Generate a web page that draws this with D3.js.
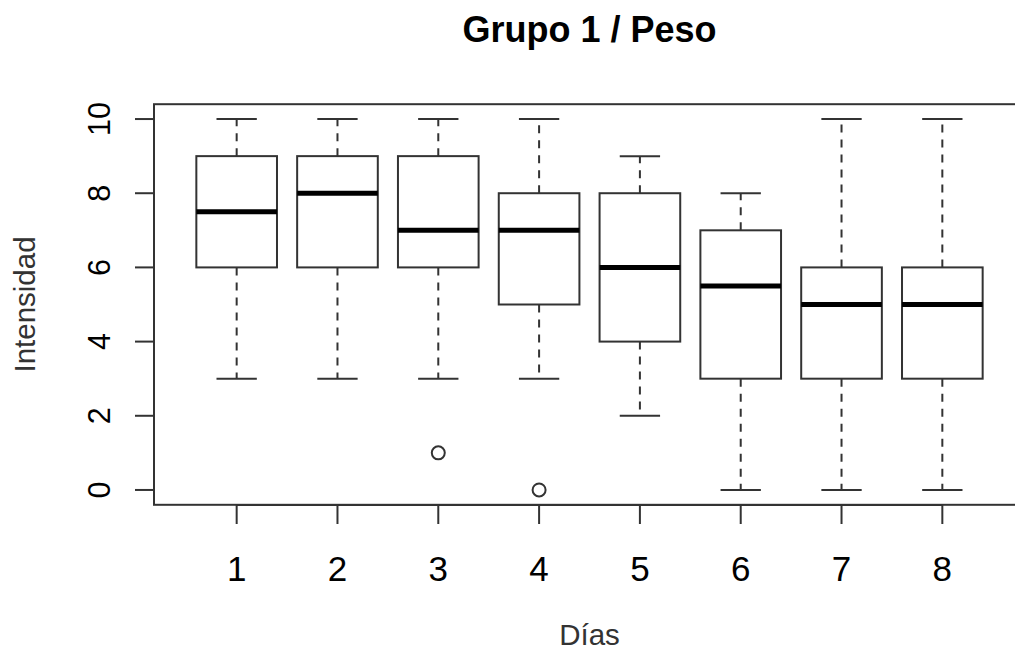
<!DOCTYPE html>
<html><head><meta charset="utf-8">
<script src="https://cdn.jsdelivr.net/npm/d3@7"></script>
<style>body{margin:0;background:#fff;} svg{display:block;font-family:"Liberation Sans",Arial,sans-serif;}</style>
</head><body>
<svg id="chart" width="1015" height="652"></svg>
<script>
const days = ["1","2","3","4","5","6","7","8"];
const whiskerLow  = [3, 3, 3, 3, 2, 0, 0, 0];
const q1          = [6, 6, 6, 5, 4, 3, 3, 3];
const medians     = [7.5, 8, 7, 7, 6, 5.5, 5, 5];
const q3          = [9, 9, 9, 8, 8, 7, 6, 6];
const whiskerHigh = [10, 10, 10, 10, 9, 8, 10, 10];
const outliers    = [[], [], [1], [0], [], [], [], []];
const yTicks = [0, 2, 4, 6, 8, 10];

const svg = d3.select("#chart");
const n = days.length;
const x = d3.scaleLinear().domain([0.5 - 0.04*n, n + 0.5 + 0.04*n]).range([154, 1025]);
const y = d3.scaleLinear().domain([-0.4, 10.4]).range([504.8, 104.2]);
const unit = x(2) - x(1);
const boxW = unit * 0.8;
const capW = boxW * 0.5;
const ink = "#333";

// frame
svg.append("rect").attr("x", x.range()[0]).attr("y", y.range()[1])
  .attr("width", x.range()[1]-x.range()[0]).attr("height", y.range()[0]-y.range()[1])
  .attr("fill","none").attr("stroke",ink).attr("stroke-width",2);

days.forEach((d,i)=>{
  const cx = x(i+1);
  const g = svg.append("g");
  g.append("line").attr("x1",cx).attr("x2",cx).attr("y1",y(q3[i])).attr("y2",y(whiskerHigh[i]))
    .attr("stroke",ink).attr("stroke-width",2).attr("stroke-dasharray","8,7");
  g.append("line").attr("x1",cx).attr("x2",cx).attr("y1",y(q1[i])).attr("y2",y(whiskerLow[i]))
    .attr("stroke",ink).attr("stroke-width",2).attr("stroke-dasharray","8,7");
  [whiskerHigh[i], whiskerLow[i]].forEach(v=>{
    g.append("line").attr("x1",cx-capW/2).attr("x2",cx+capW/2).attr("y1",y(v)).attr("y2",y(v))
      .attr("stroke",ink).attr("stroke-width",2);
  });
  g.append("rect").attr("x",cx-boxW/2).attr("y",y(q3[i])).attr("width",boxW)
    .attr("height",y(q1[i])-y(q3[i])).attr("fill","#fff").attr("stroke",ink).attr("stroke-width",2);
  g.append("line").attr("x1",cx-boxW/2).attr("x2",cx+boxW/2).attr("y1",y(medians[i])).attr("y2",y(medians[i]))
    .attr("stroke","#000").attr("stroke-width",5);
  outliers[i].forEach(v=>{
    g.append("circle").attr("cx",cx).attr("cy",y(v)).attr("r",6.5)
      .attr("fill","none").attr("stroke",ink).attr("stroke-width",2);
  });
});

// y axis
const ya = svg.append("g");
ya.append("line").attr("x1",154).attr("x2",154).attr("y1",y(0)).attr("y2",y(10)).attr("stroke",ink).attr("stroke-width",2);
yTicks.forEach(t=>{
  ya.append("line").attr("x1",135).attr("x2",154).attr("y1",y(t)).attr("y2",y(t)).attr("stroke",ink).attr("stroke-width",2);
  ya.append("text").attr("transform",`translate(110,${y(t)}) rotate(-90)`).attr("text-anchor","middle")
    .attr("font-size",30.5).attr("fill","#000").text(t);
});
// x axis
const xa = svg.append("g");
xa.append("line").attr("x1",x(1)).attr("x2",x(n)).attr("y1",505).attr("y2",505).attr("stroke",ink).attr("stroke-width",2);
days.forEach((d,i)=>{
  xa.append("line").attr("x1",x(i+1)).attr("x2",x(i+1)).attr("y1",505).attr("y2",524).attr("stroke",ink).attr("stroke-width",2);
  xa.append("text").attr("x",x(i+1)).attr("y",581).attr("text-anchor","middle").attr("font-size",35).attr("fill","#000").text(d);
});

// titles
const cxMid = (x.range()[0]+x.range()[1])/2;
svg.append("text").attr("x",cxMid).attr("y",42).attr("text-anchor","middle").attr("font-weight","bold")
  .attr("font-size",36).attr("fill","#000").text("Grupo 1 / Peso");
svg.append("text").attr("x",cxMid).attr("y",645).attr("text-anchor","middle")
  .attr("font-size",29.5).attr("fill","#333").text("Días");
svg.append("text").attr("transform",`translate(35,${(y(0)+y(10))/2}) rotate(-90)`).attr("text-anchor","middle")
  .attr("font-size",29.5).attr("fill","#333").text("Intensidad");
</script>
</body></html>
